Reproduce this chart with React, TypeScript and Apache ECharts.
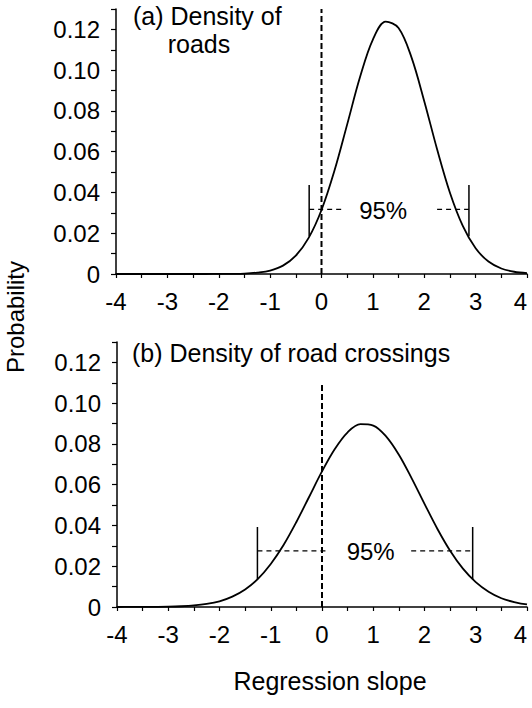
import React, { useEffect, useRef } from 'react';
import * as echarts from 'echarts';

// Regression slope grid (x values of both density curves)
const slopes = [-4, -3.75, -3.5, -3.25, -3, -2.75, -2.5, -2.25, -2, -1.75, -1.5, -1.25, -1, -0.75, -0.5, -0.25, 0,
  0.25, 0.5, 0.75, 1, 1.25, 1.5, 1.75, 2, 2.25, 2.5, 2.75, 3, 3.25, 3.5, 3.75, 4];

// (a) Density of roads
const probRoads = [0, 0, 0, 0, 0, 0, 0, 0.00001, 0.00002, 0.00007, 0.0002, 0.0007, 0.0017, 0.0041, 0.009, 0.0177, 0.0314,
  0.0505, 0.0734, 0.0966, 0.115, 0.1238, 0.1207, 0.1064, 0.0848, 0.0612, 0.0399, 0.0236, 0.0126, 0.0061, 0.0027, 0.0011, 0.0004];

// (b) Density of road crossings
const probCrossings = [0.00001, 0.00002, 0.00004, 0.00008, 0.00016, 0.00036, 0.00075, 0.0015, 0.0028, 0.0051, 0.0086, 0.0138,
  0.0211, 0.0304, 0.0417, 0.0541, 0.0665, 0.0775, 0.0857, 0.0897, 0.089, 0.0837, 0.0747, 0.0631, 0.0506, 0.0384, 0.0276,
  0.0188, 0.0122, 0.0075, 0.0043, 0.0024, 0.0013];

// 95% interval markers: [left, right] slope, bar bottoms (on curve), bar top, dashed line level, dashed gap, label position
const ciRoads = [-0.24, 2.87];
const ciRoadsBottoms = [0.0185, 0.0185];
const ciRoadsTop = 0.0436;
const ciRoadsLevel = 0.0317;
const ciRoadsGap = [0.4, 2.25];
const ciRoadsLabel = [1.2, 0.031];
const zeroLineTopRoads = 0.13;

const ciCross = [-1.26, 2.94];
const ciCrossBottoms = [0.0137, 0.0135];
const ciCrossTop = 0.0392;
const ciCrossLevel = 0.0275;
const ciCrossGap = [0.1, 1.74];
const ciCrossLabel = [0.95, 0.0272];
const zeroLineTopCross = 0.11;

const ciText = '95%';
const titleA1 = '(a) Density of';
const titleA2 = 'roads';
const titleB = '(b) Density of road crossings';
const yName = 'Probability';
const xName = 'Regression slope';

const FONT = '"Liberation Sans", Arial, Helvetica, sans-serif';

function xAxisFor(gridIndex: number) {
  return {
    type: 'value', gridIndex, min: -4, max: 4, interval: 0.5,
    axisLine: { show: true, onZero: false, lineStyle: { color: '#000', width: 1.5 } },
    axisTick: { show: true, inside: false, length: 4, lineStyle: { color: '#000', width: 1.2 } },
    axisLabel: {
      show: true, margin: 15, fontSize: 24, color: '#000', fontFamily: FONT,
      showMinLabel: true, showMaxLabel: true, alignMaxLabel: 'right',
      formatter: (v: number) => (Math.abs(v - Math.round(v)) < 1e-9 ? String(Math.round(v)) : ''),
    },
    splitLine: { show: false },
  };
}

function yAxisFor(gridIndex: number) {
  return {
    type: 'value', gridIndex, min: 0, max: 0.13, interval: 0.01,
    axisLine: { show: true, onZero: false, lineStyle: { color: '#000', width: 1.5 } },
    axisTick: { show: true, inside: false, length: 5, lineStyle: { color: '#000', width: 1.2 } },
    axisLabel: {
      show: true, margin: 16, fontSize: 24, color: '#000', fontFamily: FONT,
      showMinLabel: true, showMaxLabel: true,
      formatter: (v: number) => {
        const k = Math.round(v * 100);
        if (k % 2 !== 0) return '';
        return k === 0 ? '0' : (k / 100).toFixed(2);
      },
    },
    splitLine: { show: false },
  };
}

function seg(idx: number, pts: number[][], style: any) {
  return {
    type: 'line', xAxisIndex: idx, yAxisIndex: idx, data: pts, showSymbol: false, symbol: 'none',
    lineStyle: style, silent: true, z: 3,
  };
}

function panelSeries(idx: number, probs: number[], ci: number[], bottoms: number[], top: number, level: number,
  gap: number[], zeroTop: number) {
  const curve = slopes.map((s, i) => [s, probs[i]]);
  const dashed = { color: '#000', width: 1.2, type: [5, 4] };
  const solid = { color: '#000', width: 1.5 };
  return [
    {
      type: 'line', xAxisIndex: idx, yAxisIndex: idx, data: curve, smooth: 0.35, showSymbol: false, symbol: 'none',
      lineStyle: { color: '#000', width: 1.8 }, silent: true, z: 4,
    },
    seg(idx, [[0, 0], [0, zeroTop]], { color: '#000', width: 2, type: [6, 3] }),
    seg(idx, [[ci[0], bottoms[0]], [ci[0], top]], solid),
    seg(idx, [[ci[1], bottoms[1]], [ci[1], top]], solid),
    seg(idx, [[ci[0], level], [gap[0], level]], dashed),
    seg(idx, [[gap[1], level], [ci[1], level]], dashed),
  ];
}

export default function App() {
  const ref = useRef<HTMLDivElement>(null);
  useEffect(() => {
    if (!ref.current) return;
    const chart = echarts.init(ref.current, undefined, { renderer: 'svg' });
    const textStyle = (extra: any) => ({ fill: '#000', fontFamily: FONT, ...extra });
    chart.setOption({
      animation: false,
      backgroundColor: '#fff',
      textStyle: { fontFamily: FONT },
      grid: [
        { left: 116, top: 9, width: 411, height: 265, containLabel: false, outerBoundsMode: 'none' },
        { left: 117, top: 342, width: 410, height: 265, containLabel: false, outerBoundsMode: 'none' },
      ],
      xAxis: [xAxisFor(0), xAxisFor(1)],
      yAxis: [yAxisFor(0), yAxisFor(1)],
      series: [
        ...panelSeries(0, probRoads, ciRoads, ciRoadsBottoms, ciRoadsTop, ciRoadsLevel, ciRoadsGap, zeroLineTopRoads),
        ...panelSeries(1, probCrossings, ciCross, ciCrossBottoms, ciCrossTop, ciCrossLevel, ciCrossGap, zeroLineTopCross),
      ],
    });
    const pA = chart.convertToPixel({ gridIndex: 0 }, ciRoadsLabel) as number[];
    const pB = chart.convertToPixel({ gridIndex: 1 }, ciCrossLabel) as number[];
    chart.setOption({
      graphic: [
        { type: 'text', x: 133, y: 16, silent: true, style: textStyle({ text: titleA1, fontSize: 25, align: 'left', verticalAlign: 'middle' }) },
        { type: 'text', x: 199, y: 44, silent: true, style: textStyle({ text: titleA2, fontSize: 25, align: 'center', verticalAlign: 'middle' }) },
        { type: 'text', x: 132, y: 352.5, silent: true, style: textStyle({ text: titleB, fontSize: 25, align: 'left', verticalAlign: 'middle' }) },
        { type: 'text', x: 15, y: 317, rotation: Math.PI / 2, silent: true, style: textStyle({ text: yName, fontSize: 24, align: 'center', verticalAlign: 'middle' }) },
        { type: 'text', x: 330, y: 681, silent: true, style: textStyle({ text: xName, fontSize: 25, align: 'center', verticalAlign: 'middle' }) },
        { type: 'text', x: pA[0], y: pA[1], silent: true, z: 10, style: textStyle({ text: ciText, fontSize: 24, align: 'center', verticalAlign: 'middle' }) },
        { type: 'text', x: pB[0], y: pB[1], silent: true, z: 10, style: textStyle({ text: ciText, fontSize: 24, align: 'center', verticalAlign: 'middle' }) },
      ],
    });
    return () => chart.dispose();
  }, []);
  return <div ref={ref} style={{ position: 'absolute', left: 0, top: 0, width: 532, height: 708 }} />;
}
